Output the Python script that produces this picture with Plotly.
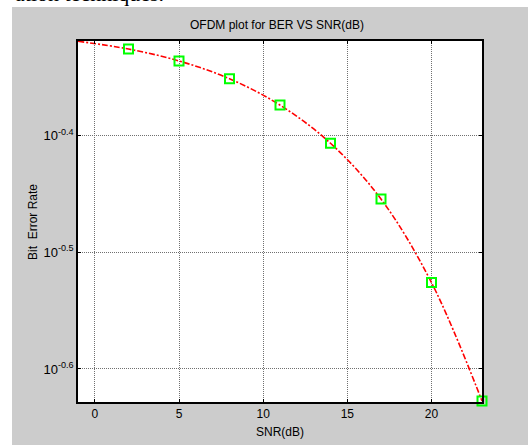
import plotly.graph_objects as go

# Data
snr_curve = [-1, 2, 5, 8, 11, 14, 17, 20, 23]
ber_curve = [0.4797, 0.4724, 0.4614, 0.4455, 0.4229, 0.3922, 0.3513, 0.2979, 0.2358]
snr_marks = [2, 5, 8, 11, 14, 17, 20, 23]
ber_marks = [0.4724, 0.4614, 0.4455, 0.4229, 0.3922, 0.3513, 0.2979, 0.2358]
x_ticks = [0, 5, 10, 15, 20]
y_tick_vals = [10 ** -0.6, 10 ** -0.5, 10 ** -0.4]
y_tick_text = ["10<sup>-0.6</sup>", "10<sup>-0.5</sup>", "10<sup>-0.4</sup>"]

W, H = 528, 445
L, R, T, B = 78, 482, 41, 402

def px(x):
    return (x - L) / (R - L)

def py(y):
    return (B - y) / (B - T)

fig = go.Figure()
fig.add_trace(go.Scatter(
    x=snr_curve, y=ber_curve, mode="lines",
    line=dict(color="#ff0000", width=1.6, dash="6px,2px,2px,2px", shape="spline"),
    showlegend=False, cliponaxis=True))
fig.add_trace(go.Scatter(
    x=snr_marks, y=ber_marks, mode="markers",
    marker=dict(symbol="square-open", size=9, color="#00ff00", line=dict(width=2, color="#00ff00")),
    showlegend=False, cliponaxis=False))

font = "Liberation Sans, Arial, sans-serif"

fig.update_layout(
    width=W, height=H,
    margin=dict(l=L, r=W - R, t=T, b=H - B, pad=0),
    paper_bgcolor="#cccccc",
    plot_bgcolor="#ffffff",
    font=dict(family=font, size=12, color="#000000"),
    xaxis=dict(
        range=[-1, 23], tickvals=x_ticks, ticks="inside", ticklen=3, tickcolor="#000",
        showline=True, linecolor="#000", linewidth=1.5, mirror="ticks",
        showgrid=True, gridcolor="#707070", gridwidth=1, griddash="1px,1px",
        zeroline=False, tickfont=dict(size=12),
    ),
    yaxis=dict(
        type="log", range=[-0.6283, -0.3188], tickvals=y_tick_vals, ticktext=y_tick_text,
        ticks="inside", ticklen=3, tickcolor="#000",
        showline=True, linecolor="#000", linewidth=1.5, mirror="ticks",
        showgrid=True, gridcolor="#707070", gridwidth=1, griddash="1px,1px",
        zeroline=False, tickfont=dict(size=13),
    ),
    shapes=[
        dict(type="rect", xref="paper", yref="paper", x0=px(-5), x1=px(W + 5), y0=py(7), y1=py(-20),
             fillcolor="#ffffff", line=dict(width=0), layer="above"),
        dict(type="rect", xref="paper", yref="paper", x0=px(-20), x1=px(12), y0=py(H + 20), y1=py(-20),
             fillcolor="#ffffff", line=dict(width=0), layer="above"),
    ],
    annotations=[
        dict(text="OFDM plot for BER VS SNR(dB)", xref="paper", yref="paper", x=px(277), y=py(25),
             showarrow=False, xanchor="center", yanchor="middle", font=dict(size=12)),
        dict(text="SNR(dB)", xref="paper", yref="paper", x=px(280), y=py(432),
             showarrow=False, xanchor="center", yanchor="middle", font=dict(size=12)),
        dict(text="Bit  Error Rate", xref="paper", yref="paper", x=px(33), y=py(222), textangle=-90,
             showarrow=False, xanchor="center", yanchor="middle", font=dict(size=12)),
        dict(text="ation techniques.", xref="paper", yref="paper", x=px(166), y=py(8),
             showarrow=False, xanchor="right", yanchor="bottom",
             font=dict(family="Liberation Serif, Times New Roman, serif", size=22, color="#000")),
    ],
)

fig.write_html(
    "out.html",
    config={"displayModeBar": False},
    post_script="document.body.style.margin='0';document.body.style.overflow='hidden';",
)
